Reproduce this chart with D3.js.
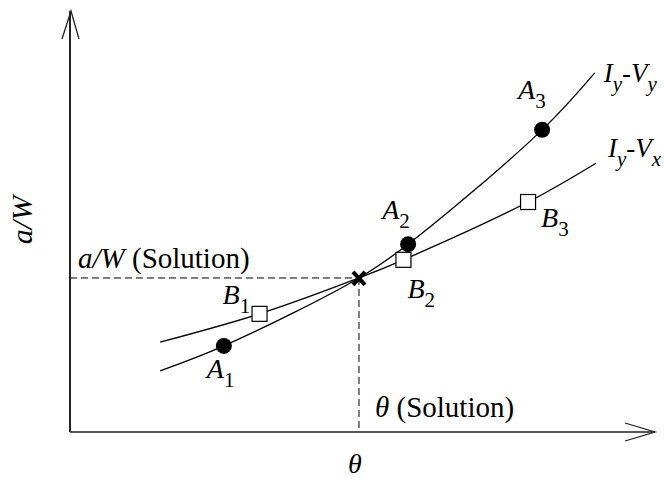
<!DOCTYPE html>
<html>
<head>
<meta charset="utf-8">
<script src="https://cdn.jsdelivr.net/npm/d3@7"></script>
<style>
  body { margin: 0; background: #fff; }
  svg { display: block; }
  text { font-family: "Liberation Serif", "Times New Roman", Times, serif; }
</style>
</head>
<body>
<svg id="chart" width="664" height="480"></svg>
<script>
// Curve I_y-V_y (points A): crack angle θ vs a/W, arbitrary units
const thetaA = [15.4, 26.3, 49.4, 57.8, 80.7, 89.7];
const awA    = [14.5, 20.4, 36.5, 44.5, 71.6, 85.1];
// Curve I_y-V_x (points B)
const thetaB = [15.4, 32.4, 49.4, 57.0, 78.3, 89.9];
const awB    = [21.3, 28.0, 36.5, 40.8, 54.5, 63.7];
// Which curve samples carry a marker, and their names
const markIdx = [1, 3, 4];
const namesA = ["1", "2", "3"];
const namesB = ["1", "2", "3"];
// Intersection of the two curves
const solution = [49.4, 36.5];

const svg = d3.select("#chart");
const x = d3.scaleLinear().domain([0, 100]).range([70, 655]);
const y = d3.scaleLinear().domain([0, 100]).range([432, 10]);
const FS = 28;

// Text with italic/subscript runs
function label(px, py, parts, size = FS, g = svg) {
  const t = g.append("text").attr("x", px).attr("y", py)
    .style("font-size", size + "px").attr("fill", "#000");
  let shift = 0;
  parts.forEach(p => {
    const target = p.sub ? 9 : 0;
    const ts = t.append("tspan").text(p.t).attr("dy", target - shift);
    shift = target;
    if (p.i) ts.style("font-style", "italic");
    if (p.sub) ts.style("font-size", Math.round(size * 0.76) + "px");
  });
  return t;
}

// Axes with open arrowheads
const ax = svg.append("g").attr("stroke", "#222").attr("fill", "none");
ax.append("line").attr("x1", x(0)).attr("x2", x(0)).attr("y1", y(0)).attr("y2", y(100) + 1)
  .attr("stroke-width", 2);
ax.append("line").attr("x1", x(0)).attr("x2", x(100)).attr("y1", y(0)).attr("y2", y(0))
  .attr("stroke-width", 1.6);
ax.append("path").attr("stroke-width", 1.3)
  .attr("d", `M${x(0) - 8},${y(100) + 29} L${x(0) + 1},${y(100) + 1} L${x(0) + 9},${y(100) + 29}`);
ax.append("path").attr("stroke-width", 1.3)
  .attr("d", `M${x(100) - 30},${y(0) - 9} L${x(100)},${y(0)} L${x(100) - 30},${y(0) + 9}`);

// Dashed guides to the solution
const guides = svg.append("g").attr("stroke", "#000").attr("stroke-width", 1)
  .attr("stroke-dasharray", "7,4").attr("fill", "none");
guides.append("line").attr("x1", x(0)).attr("x2", x(solution[0]))
  .attr("y1", y(solution[1])).attr("y2", y(solution[1]));
guides.append("line").attr("x1", x(solution[0])).attr("x2", x(solution[0]))
  .attr("y1", y(solution[1])).attr("y2", y(0));

// Curves
const line = d3.line().x(d => x(d[0])).y(d => y(d[1])).curve(d3.curveCatmullRom.alpha(0.5));
const ptsA = thetaA.map((t, i) => [t, awA[i]]);
const ptsB = thetaB.map((t, i) => [t, awB[i]]);
svg.append("path").datum(ptsA).attr("d", line)
  .attr("fill", "none").attr("stroke", "#000").attr("stroke-width", 1.3);
svg.append("path").datum(ptsB).attr("d", line)
  .attr("fill", "none").attr("stroke", "#000").attr("stroke-width", 1.3);

// Markers
svg.append("g").selectAll("circle").data(markIdx.map(i => ptsA[i])).join("circle")
  .attr("cx", d => x(d[0])).attr("cy", d => y(d[1])).attr("r", 8).attr("fill", "#000");
svg.append("g").selectAll("rect").data(markIdx.map(i => ptsB[i])).join("rect")
  .attr("x", d => x(d[0]) - 7.5).attr("y", d => y(d[1]) - 7.5)
  .attr("width", 15).attr("height", 15)
  .attr("fill", "#fff").attr("stroke", "#000").attr("stroke-width", 1.2);

// Cross at the solution
const sx = x(solution[0]), sy = y(solution[1]);
svg.append("path").attr("stroke", "#000").attr("stroke-width", 4).attr("fill", "none")
  .attr("d", `M${sx - 6},${sy - 6} L${sx + 6},${sy + 7} M${sx + 6},${sy - 6} L${sx - 6},${sy + 7}`);

// Point labels, placed relative to each marker
const offA = [[-17, 32], [-26, -25], [-24, -31]];
const offB = [[-37, -10], [4, 38], [13, 25]];
markIdx.forEach((idx, k) => {
  const pa = ptsA[idx], pb = ptsB[idx];
  label(x(pa[0]) + offA[k][0], y(pa[1]) + offA[k][1], [{ t: "A", i: true }, { t: namesA[k], sub: true }]);
  label(x(pb[0]) + offB[k][0], y(pb[1]) + offB[k][1], [{ t: "B", i: true }, { t: namesB[k], sub: true }]);
});

// Curve names at their ends
const endA = ptsA[ptsA.length - 1], endB = ptsB[ptsB.length - 1];
label(x(endA[0]) + 9, y(endA[1]) + 9,
  [{ t: "I", i: true }, { t: "y", i: true, sub: true }, { t: "-" }, { t: "V", i: true }, { t: "y", i: true, sub: true }], 27);
label(x(endB[0]) + 12, y(endB[1]) - 6,
  [{ t: "I", i: true }, { t: "y", i: true, sub: true }, { t: "-" }, { t: "V", i: true }, { t: "x", i: true, sub: true }], 27);

// Solution annotations
label(x(0) + 8, sy - 10, [{ t: "a/W", i: true }, { t: " (Solution)" }], 29);
label(sx + 16, y(0) - 15, [{ t: "θ", i: true }, { t: " (Solution)" }], 29);

// Axis titles
label(x(solution[0]) - 11, 473, [{ t: "θ", i: true }], 28);
label(0, 0, [{ t: "a/W", i: true }], 30)
  .attr("text-anchor", "middle")
  .attr("transform", "translate(32,220) rotate(-90)");
</script>
</body>
</html>
